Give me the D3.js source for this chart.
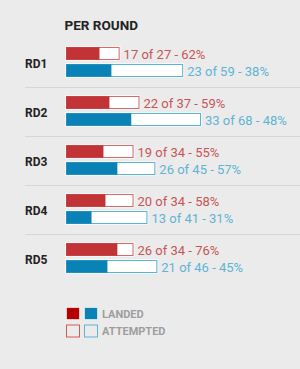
<!DOCTYPE html>
<html>
<head>
<meta charset="utf-8">
<script src="https://cdn.jsdelivr.net/npm/d3@7"></script>
<style>
  body { margin: 0; background: #ebebeb; }
  svg { display: block; font-family: Roboto, "Noto Sans", sans-serif; }
</style>
</head>
<body>
<div id="chart"></div>
<script>
const rounds = ['RD1', 'RD2', 'RD3', 'RD4', 'RD5'];
const redLanded = [17, 22, 19, 20, 26];
const redAttempted = [27, 37, 34, 34, 34];
const blueLanded = [23, 33, 26, 13, 21];
const blueAttempted = [59, 68, 45, 41, 46];

const W = 300, H = 369;
const left = 66;
const RED = '#c13334', RED_LINE = '#d86a6a', RED_TXT = '#c85556';
const BLUE = '#0a82b5', BLUE_LINE = '#5ab6d9', BLUE_TXT = '#5fb4d4';

const svg = d3.select('#chart').append('svg').attr('width', W).attr('height', H);

svg.append('text').attr('x', 64.5).attr('y', 29.5)
  .attr('font-size', '13.5px').attr('font-weight', 700).attr('fill', '#222')
  .text('PER ROUND');

const x = d3.scaleLinear().domain([0, 68]).range([0, 135]);
const y = d3.scaleBand().domain(rounds).range([38, 283]).padding(0);

// percentages are truncated, not rounded
const pct = (a, b) => Math.floor(a / b * 100) + '%';

const rows = svg.append('g').selectAll('g')
  .data(rounds.map((r, i) => ({
    r, i,
    bars: [
      { landed: redLanded[i], att: redAttempted[i], fill: RED, line: RED_LINE, txt: RED_TXT, dy: 9 },
      { landed: blueLanded[i], att: blueAttempted[i], fill: BLUE, line: BLUE_LINE, txt: BLUE_TXT, dy: 26 }
    ]
  })))
  .join('g')
  .attr('transform', d => `translate(0,${y(d.r)})`);

rows.append('text').attr('x', 25).attr('y', 30)
  .attr('font-size', '12px').attr('font-weight', 700).attr('fill', '#222')
  .text(d => d.r);

rows.filter(d => d.i < rounds.length - 1).append('line')
  .attr('x1', 25).attr('x2', W).attr('y1', 49.5).attr('y2', 49.5)
  .attr('stroke', '#d6d6d9').attr('stroke-width', 1);

const bar = rows.selectAll('g.bar').data(d => d.bars).join('g').attr('class', 'bar')
  .attr('transform', d => `translate(${left},${d.dy})`);

bar.append('rect').attr('x', -0.5).attr('y', -0.5)
  .attr('width', d => x(d.att) + 1).attr('height', 14)
  .attr('fill', 'none').attr('stroke', '#fff').attr('stroke-opacity', 0.6);
bar.append('rect').attr('x', 0.5).attr('y', 0.5)
  .attr('width', d => x(d.att) - 1).attr('height', 12)
  .attr('fill', '#fff').attr('stroke', d => d.line);
bar.append('rect').attr('x', 0.5).attr('y', 0.5)
  .attr('width', d => x(d.landed) - 1).attr('height', 12)
  .attr('fill', d => d.fill).attr('stroke', d => d.fill).attr('stroke-opacity', 0.4);

bar.append('text').attr('x', d => x(d.att) + 4).attr('y', 11.5)
  .attr('font-size', '13px').attr('fill', d => d.txt)
  .text(d => `${d.landed} of ${d.att} - ${pct(d.landed, d.att)}`);

// legend
const legendItems = ['LANDED', 'ATTEMPTED'];
const lg = svg.append('g').selectAll('g').data(legendItems).join('g')
  .attr('transform', (d, i) => `translate(66,${307 + i * 17.5})`);
[['#b40000', '#d05a5a'], ['#0a82b5', '#5ab6d9']].forEach(([solid, line], j) => {
  lg.append('rect').attr('x', j * 18 + 0.5).attr('y', 0.5).attr('width', 13).attr('height', 12)
    .attr('fill', (d, i) => i === 0 ? solid : '#ebebeb')
    .attr('stroke', (d, i) => i === 0 ? '#fff' : line)
    .attr('stroke-opacity', (d, i) => i === 0 ? 0.6 : 1);
});
lg.append('text').attr('x', 36).attr('y', 10.5)
  .attr('font-size', '11px').attr('font-weight', 700).attr('fill', '#9e9e9e')
  .text(d => d);
</script>
</body>
</html>
